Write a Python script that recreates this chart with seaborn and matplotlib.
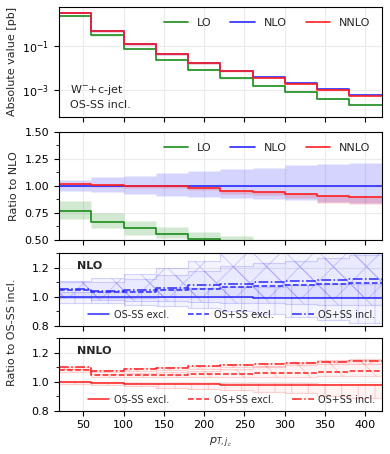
import numpy as np
import pandas as pd
import matplotlib
matplotlib.use("Agg")
import matplotlib.pyplot as plt
from matplotlib.ticker import AutoMinorLocator, MultipleLocator
import seaborn as sns

# ---------------- data ----------------
edges = [20, 60, 100, 140, 180, 220, 260, 300, 340, 380, 420]

nlo_abs = [3.0, 0.44, 0.115, 0.040, 0.016, 0.0072, 0.0037, 0.0020, 0.00107, 0.0006]

lo_ratio = [0.77, 0.67, 0.61, 0.56, 0.51, 0.47, 0.41, 0.40, 0.38, 0.35]
lo_lo = [0.69, 0.61, 0.55, 0.515, 0.46, 0.42, 0.37, 0.36, 0.34, 0.31]
lo_hi = [0.86, 0.75, 0.68, 0.62, 0.57, 0.54, 0.47, 0.46, 0.44, 0.40]

nlo_ratio = [1.0] * 10
nlo_lo = [0.957, 0.94, 0.926, 0.91, 0.90, 0.89, 0.88, 0.87, 0.855, 0.845]
nlo_hi = [1.055, 1.08, 1.095, 1.117, 1.14, 1.157, 1.17, 1.19, 1.20, 1.21]

nnlo_ratio = [1.02, 1.01, 1.00, 1.00, 0.985, 0.957, 0.947, 0.926, 0.908, 0.902]
nnlo_lo = [1.00, 0.99, 0.985, 0.98, 0.96, 0.93, 0.915, 0.885, 0.845, 0.835]
nnlo_hi = [1.03, 1.02, 1.01, 1.01, 0.99, 0.965, 0.955, 0.935, 0.915, 0.91]

# NLO variations (ratio to OS-SS incl.)
nlo_osss_excl = [1.0, 0.998, 0.997, 0.996, 0.995, 0.995, 0.994, 0.994, 0.993, 0.993]
nlo_osss_excl_lo = [0.96, 0.955, 0.945, 0.935, 0.92, 0.90, 0.88, 0.86, 0.84, 0.82]
nlo_osss_excl_hi = [1.03, 1.035, 1.04, 1.05, 1.06, 1.065, 1.07, 1.08, 1.085, 1.09]
nlo_ospss_excl = [1.046, 1.03, 1.032, 1.044, 1.05, 1.065, 1.074, 1.078, 1.088, 1.092]
nlo_ospss_excl_lo = [0.99, 0.975, 0.97, 0.97, 0.965, 0.96, 0.955, 0.95, 0.945, 0.94]
nlo_ospss_excl_hi = [1.10, 1.10, 1.12, 1.15, 1.18, 1.21, 1.23, 1.25, 1.27, 1.29]
nlo_ospss_incl = [1.05, 1.041, 1.044, 1.062, 1.078, 1.09, 1.099, 1.108, 1.115, 1.124]
nlo_ospss_incl_lo = [1.0, 0.99, 0.99, 0.995, 1.0, 1.0, 1.0, 1.0, 1.0, 1.0]
nlo_ospss_incl_hi = [1.11, 1.13, 1.16, 1.20, 1.25, 1.30, 1.33, 1.36, 1.38, 1.40]

# NNLO variations (ratio to OS-SS incl.)
nnlo_osss_excl = [0.998, 0.988, 0.984, 0.984, 0.982, 0.98, 0.98, 0.98, 0.974, 0.974]
nnlo_osss_excl_lo = [0.985, 0.975, 0.97, 0.96, 0.95, 0.94, 0.93, 0.92, 0.90, 0.89]
nnlo_osss_excl_hi = [1.005, 0.995, 0.99, 0.99, 0.99, 0.99, 0.99, 0.99, 0.985, 0.985]
nnlo_ospss_excl = [1.082, 1.044, 1.044, 1.047, 1.051, 1.056, 1.06, 1.063, 1.068, 1.075]
nnlo_ospss_excl_lo = [1.07, 1.03, 1.03, 1.03, 1.03, 1.03, 1.035, 1.035, 1.04, 1.04]
nnlo_ospss_excl_hi = [1.09, 1.055, 1.06, 1.065, 1.075, 1.09, 1.11, 1.13, 1.15, 1.16]
nnlo_ospss_incl = [1.099, 1.075, 1.087, 1.094, 1.106, 1.115, 1.122, 1.131, 1.138, 1.145]
nnlo_ospss_incl_lo = [1.085, 1.065, 1.075, 1.08, 1.09, 1.10, 1.105, 1.115, 1.12, 1.125]
nnlo_ospss_incl_hi = [1.105, 1.08, 1.092, 1.10, 1.112, 1.12, 1.128, 1.137, 1.143, 1.15]

order_labels = ["LO", "NLO", "NNLO"]
var_labels = ["OS-SS excl.", "OS+SS excl.", "OS+SS incl."]
xticks = [50, 100, 150, 200, 250, 300, 350, 400]

# ---------------- style ----------------
sns.set_style("ticks")
plt.rcParams["font.family"] = ["DejaVu Sans"]
plt.rcParams["font.size"] = 8
plt.rcParams["xtick.labelsize"] = 8
plt.rcParams["ytick.labelsize"] = 8
plt.rcParams["axes.edgecolor"] = "black"
plt.rcParams["axes.linewidth"] = 0.8
plt.rcParams["xtick.color"] = "black"
plt.rcParams["ytick.color"] = "black"
plt.rcParams["hatch.linewidth"] = 0.8

C = {"LO": "#1a8c1a", "NLO": "#2a2aff", "NNLO": "#ff2020"}

fig = plt.figure(figsize=(3.9, 4.54), dpi=100)
L, W = 0.1513, 0.827
ax1 = fig.add_axes([L, 0.743, W, 0.2416])
ax2 = fig.add_axes([L, 0.4714, W, 0.2379])
ax3 = fig.add_axes([L, 0.2826, W, 0.1595])
ax4 = fig.add_axes([L, 0.0954, W, 0.1595])


def ext(v):
    return list(v) + [v[-1]]


def step(ax, vals, color, ls="-", label=None, lw=1.2, alpha=1.0):
    df = pd.DataFrame({"x": edges, "y": ext(vals)})
    sns.lineplot(data=df, x="x", y="y", ax=ax, drawstyle="steps-post",
                 color=color, linestyle=ls, lw=lw, label=label,
                 estimator=None, sort=False, alpha=alpha)


def band(ax, lo, hi, color, alpha=0.2, hatch=None, edge_alpha=0.0):
    ax.fill_between(edges, ext(lo), ext(hi), step="post",
                    facecolor=matplotlib.colors.to_rgba(color, alpha),
                    edgecolor=matplotlib.colors.to_rgba(color, edge_alpha),
                    hatch=hatch, lw=0.8)


# ---------------- panel 1: absolute ----------------
nlo_a = np.array(nlo_abs)
for name, r in [("LO", lo_ratio), ("NLO", nlo_ratio), ("NNLO", nnlo_ratio)]:
    r = np.array(r)
    band(ax1, nlo_a * r * 0.97, nlo_a * r * 1.03, C[name], alpha=0.2)
for name, r in [("LO", lo_ratio), ("NLO", nlo_ratio), ("NNLO", nnlo_ratio)]:
    step(ax1, nlo_a * np.array(r), C[name], label=name)
ax1.set_yscale("log")
ax1.set_ylim(6.2e-5, 5.6)
ax1.set_ylabel("Absolute value [pb]", fontsize=8)
ax1.text(0.035, 0.06, "W$^{-}$+c-jet\nOS-SS incl.", transform=ax1.transAxes,
         fontsize=8, ha="left", va="bottom", linespacing=1.4)

# ---------------- panel 2: ratio to NLO ----------------
band(ax2, lo_lo, lo_hi, C["LO"], alpha=0.2)
band(ax2, nlo_lo, nlo_hi, C["NLO"], alpha=0.2)
band(ax2, nnlo_lo, nnlo_hi, C["NNLO"], alpha=0.2)
step(ax2, lo_ratio, C["LO"], label="LO")
step(ax2, nlo_ratio, C["NLO"], label="NLO")
step(ax2, nnlo_ratio, C["NNLO"], label="NNLO")
ax2.set_ylim(0.5, 1.5)
ax2.yaxis.set_major_locator(MultipleLocator(0.25))
ax2.yaxis.set_minor_locator(AutoMinorLocator(2))
ax2.set_ylabel("Ratio to NLO", fontsize=8)

for ax in (ax1, ax2):
    ax.legend(loc="upper right", ncol=3, frameon=False, fontsize=8,
              handlelength=2.2, handletextpad=0.8, columnspacing=1.7,
              borderaxespad=0.6)

# ---------------- panels 3/4 ----------------
def var_panel(ax, color, data, title):
    styles = ["-", "--", "-."]
    hatches = ["|", "\\", "x"]
    for (c, lo, hi), h in zip(data, hatches):
        band(ax, lo, hi, color, alpha=0.05, hatch=h, edge_alpha=0.18)
    for (c, lo, hi), ls, lab in zip(data, styles, var_labels):
        step(ax, c, color, ls=ls, label=lab, lw=1.1)
    ax.set_ylim(0.8, 1.3)
    ax.yaxis.set_major_locator(MultipleLocator(0.2))
    ax.yaxis.set_minor_locator(MultipleLocator(0.1))
    ax.text(0.055, 0.83, title, transform=ax.transAxes, fontsize=8,
            fontweight="bold", ha="left", va="center")
    ax.legend(loc="lower right", ncol=3, frameon=False, fontsize=7,
              handlelength=2.2, handletextpad=0.5, columnspacing=1.9,
              borderaxespad=0.2)


var_panel(ax3, C["NLO"], [(nlo_osss_excl, nlo_osss_excl_lo, nlo_osss_excl_hi),
                          (nlo_ospss_excl, nlo_ospss_excl_lo, nlo_ospss_excl_hi),
                          (nlo_ospss_incl, nlo_ospss_incl_lo, nlo_ospss_incl_hi)], "NLO")
var_panel(ax4, C["NNLO"], [(nnlo_osss_excl, nnlo_osss_excl_lo, nnlo_osss_excl_hi),
                           (nnlo_ospss_excl, nnlo_ospss_excl_lo, nnlo_ospss_excl_hi),
                           (nnlo_ospss_incl, nnlo_ospss_incl_lo, nnlo_ospss_incl_hi)], "NNLO")

fig.text(0.03, (0.2826 + 0.1595 + 0.0954) / 2, "Ratio to OS-SS incl.", rotation=90,
         ha="center", va="center", fontsize=8)

for ax in (ax1, ax2, ax3, ax4):
    ax.set_xlim(20, 420)
    ax.set_xticks(xticks)
    ax.grid(True, color="#ebebeb", lw=0.8)
    ax.set_axisbelow(True)
    ax.tick_params(direction="out", length=3.5, width=0.8)
    ax.tick_params(which="minor", length=2, width=0.6)
    ax.set_xlabel("")
    if ax is not ax4:
        ax.set_xticklabels([])
    if ax in (ax3, ax4):
        ax.set_ylabel("")

ax4.set_xlabel("$p_{T,j_c}$", fontsize=8)

fig.savefig("out.png", dpi=100)
